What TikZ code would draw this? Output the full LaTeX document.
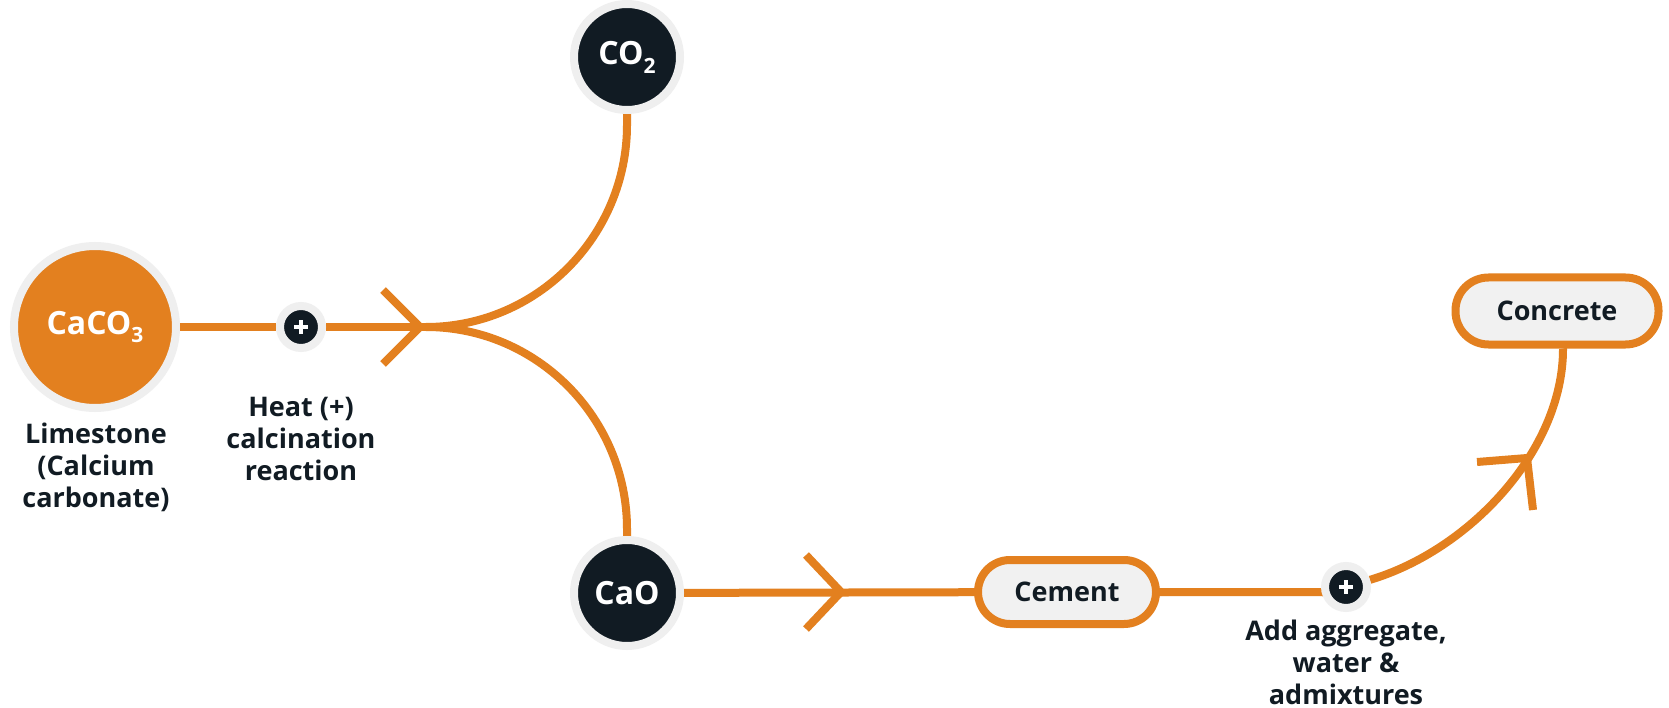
\documentclass[tikz,border=0pt]{standalone}
\usepackage{fontspec}
\setmainfont{Open Sans}
\definecolor{orng}{HTML}{E3801F}
\definecolor{navy}{HTML}{111B23}
\definecolor{ringg}{HTML}{EFEFEF}
\definecolor{pillg}{HTML}{F1F1F1}
\pgfdeclarelayer{bg}
\pgfsetlayers{bg,main}
\begin{document}
\begin{tikzpicture}[x=1pt,y=-1pt,
  conn/.style={draw=orng, line width=8pt},
  bigcirc/.style={circle, fill=orng, draw=ringg, line width=8pt, minimum size=162pt, inner sep=0pt, text=white, font=\fontsize{32}{32}\selectfont\bfseries},
  darkcirc/.style={circle, fill=navy, draw=ringg, line width=8pt, minimum size=106pt, inner sep=0pt, text=white, font=\fontsize{32}{32}\selectfont\bfseries},
  plusnode/.style={circle, fill=navy, draw=ringg, line width=8pt, minimum size=42pt, inner sep=0pt,
    path picture={
      \draw[white,line width=4pt] ([xshift=-7pt]path picture bounding box.center) -- ([xshift=7pt]path picture bounding box.center);
      \draw[white,line width=4pt] ([yshift=-7pt]path picture bounding box.center) -- ([yshift=7pt]path picture bounding box.center);}},
  pill/.style={rectangle, rounded corners=32pt, fill=pillg, draw=orng, line width=8pt, minimum width=178pt, minimum height=64pt, inner sep=0pt, text=navy, font=\fontsize{27}{27}\selectfont\bfseries},
  lbl/.style={text=navy, align=center, inner sep=0pt, font=\fontsize{27}{32}\selectfont\bfseries}
]
\useasboundingbox (0,0) rectangle (1669,708);

% nodes
\node[bigcirc] (caco3) at (95,327) {CaCO\raisebox{-0.28em}{\fontsize{21}{21}\selectfont 3}};
\node[darkcirc] (co2) at (627,57) {CO\raisebox{-0.28em}{\fontsize{21}{21}\selectfont 2}};
\node[darkcirc] (cao) at (627,593) {CaO};
\node[plusnode] (plus1) at (301,327) {};
\node[plusnode] (plus2) at (1346,587) {};
\node[pill] (cement) at (1067,592) {Cement};
\node[pill, minimum width=203pt, minimum height=67pt, rounded corners=33pt] (concrete) at (1557,311) {Concrete};

\node[lbl] (limestone) at (96,467) {Limestone\\(Calcium\\carbonate)};
\node[lbl] (heat) at (301,439) {Heat (+)\\calcination\\reaction};
\node[lbl] (add) at (1346,662) {Add aggregate,\\water \&\\admixtures};

\coordinate (branch) at (426,327);
\coordinate (tip1) at (420,327);
\coordinate (tip2) at (841,592);
\coordinate (tip3) at (1527,458);
\coordinate (bend) at (1312,592);

\begin{pgfonlayer}{bg}
\fill[white] (0,0) rectangle (1669,708);
\draw[conn] (caco3) -- (plus1);
\draw[conn] (plus1) -- (branch);
\draw[conn] (branch) .. controls (537,327) and (627,236) .. (627,125) -- (co2);
\draw[conn] (branch) .. controls (537,327) and (627,418) .. (627,529) -- (cao);
\draw[conn] (cao) -- (cement);
\draw[conn] (cement) -- (bend) .. controls (1325,592) .. (plus2);
\draw[conn] (plus2) .. controls (1470,550) and (1563,450) .. (1563,349) -- (concrete);
% chevrons
\draw[conn] (tip1) ++(-37,-37) -- (tip1) -- ++(-37,37);
\draw[conn] (tip2) ++(-35,-37) -- (tip2) -- ++(-35,37);
\draw[conn] (tip3) ++(-50,4) -- (tip3) -- ++(6,52);
\end{pgfonlayer}
\end{tikzpicture}
\end{document}
